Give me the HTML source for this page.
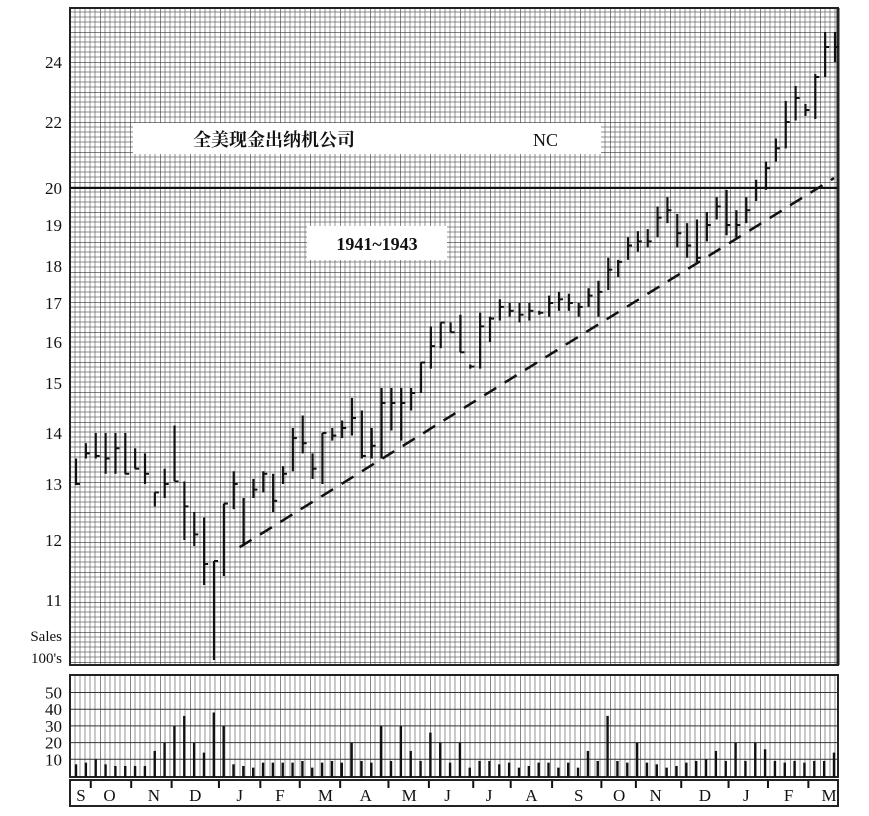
<!DOCTYPE html>
<html><head><meta charset="utf-8"><style>
body{margin:0;background:#fff;width:869px;height:816px;overflow:hidden}
svg{display:block}
text{font-family:"Liberation Serif","Noto Serif CJK SC",serif;fill:#111}
</style></head><body>
<svg id="chart" width="869" height="816" viewBox="0 0 869 816" xmlns="http://www.w3.org/2000/svg">
<defs>
<pattern id="grid" x="70" y="2" width="30" height="30" patternUnits="userSpaceOnUse">
<path d="M5 0V30M10 0V30M15 0V30M20 0V30M25 0V30M0 5H30M0 10H30M0 15H30M0 20H30M0 25H30" stroke="#666" stroke-width="0.7" fill="none"/>
<path d="M0 0V30M0 0H30" stroke="#333" stroke-width="1.2" fill="none"/>
</pattern>
<pattern id="vgrid" x="70" y="0" width="30" height="10" patternUnits="userSpaceOnUse">
<path d="M5 0V10M10 0V10M15 0V10M20 0V10M25 0V10" stroke="#666" stroke-width="0.7" fill="none"/>
<path d="M0 0V10" stroke="#333" stroke-width="1.2" fill="none"/>
</pattern>
</defs>
<rect x="70" y="8" width="768" height="657" fill="url(#grid)"/>
<rect x="70" y="8" width="768" height="657" fill="none" stroke="#222" stroke-width="2"/>
<line x1="838" y1="8" x2="838" y2="665" stroke="#222" stroke-width="3"/>
<line x1="70" y1="188" x2="838" y2="188" stroke="#111" stroke-width="2"/>
<rect x="70" y="675" width="768" height="102" fill="url(#vgrid)"/>
<g id="vhl"></g>
<rect x="70" y="675" width="768" height="102" fill="none" stroke="#222" stroke-width="2"/>
<rect x="70" y="780" width="768" height="26" fill="#fff" stroke="#222" stroke-width="2"/>
<g id="yaxis"></g>
<g id="vaxis"></g>
<text x="62" y="641" font-size="15" text-anchor="end">Sales</text>
<text x="62" y="663" font-size="15" text-anchor="end">100's</text>
<g id="bars"></g>
<g id="vols"></g>
<g id="months"></g>
<line id="trend" stroke="#111" stroke-width="2.5" stroke-dasharray="14,10"/>
<rect x="133" y="123" width="468" height="31" fill="#fff"/>
<text x="193" y="146" font-size="18" font-weight="bold" font-family="Liberation Sans, Noto Sans CJK SC, sans-serif">全美现金出纳机公司</text>
<text x="533" y="146" font-size="18">NC</text>
<rect x="307" y="226" width="140" height="34" fill="#fff"/>
<text x="377" y="250" font-size="18" font-weight="bold" text-anchor="middle">1941~1943</text>
</svg>
<script>
const highs=[13.5,13.8,14.0,14.0,14.0,14.0,13.7,13.6,12.85,13.3,14.15,13.05,12.5,12.4,11.65,12.65,13.25,12.75,13.1,13.25,13.2,13.35,14.1,14.35,13.6,14.0,14.1,
14.25,14.7,14.45,14.1,14.9,14.9,14.9,14.9,15.5,16.4,16.5,16.5,16.7,15.45,16.75,16.65,17.1,17.0,17.0,17.0,16.8,17.2,17.3,17.25,17.0,17.4,17.6,
18.2,18.15,18.7,18.85,18.9,19.5,19.75,19.3,19.05,19.15,19.35,19.75,19.95,19.4,19.75,20.25,20.8,21.5,22.7,23.2,22.6,23.6,25.0,25.0];
const lows=[12.98,13.5,13.5,13.2,13.2,13.2,13.3,13.0,12.6,12.75,13.05,12.0,11.9,11.25,10.0,11.4,12.55,11.9,12.75,12.85,12.5,13.0,13.25,13.6,13.1,13.0,13.85,
13.9,13.95,13.5,13.5,13.5,14.05,13.85,14.45,14.8,15.35,15.85,16.25,15.75,15.35,15.35,16.0,16.55,16.65,16.5,16.55,16.7,16.65,16.8,16.8,16.65,16.9,16.65,
17.35,17.7,18.15,18.35,18.45,18.7,19.05,18.45,18.2,18.1,18.6,19.15,18.75,18.7,19.05,19.65,19.95,20.8,21.2,22.05,22.2,22.1,23.5,24.0];
const closes=[13.0,13.6,13.55,13.5,13.7,13.2,13.3,13.2,12.85,13.0,13.05,12.6,12.1,11.6,11.65,12.65,13.0,11.95,12.9,13.2,12.7,13.2,13.9,13.8,13.3,14.0,13.95,
14.1,14.3,13.55,13.75,14.6,14.6,14.6,14.8,15.5,15.9,16.5,16.25,15.75,15.4,16.4,16.6,16.9,16.8,16.7,16.8,16.75,17.0,17.1,17.0,16.9,17.2,17.3,
17.9,18.1,18.5,18.6,18.6,19.2,19.4,18.8,18.5,18.2,19.0,19.5,19.0,19.0,19.4,20.0,20.6,21.2,22.0,22.8,22.4,23.5,24.5,24.5];
const volumes=[7,8,10,7,6,6,6,6,15,20,30,36,20,14,38,30,7,6,5,8,8,8,8,9,5,8,9,8,20,9,8,30,9,30,15,9,26,20,8,20,
5,9,9,7,8,5,6,8,8,5,8,5,15,9,36,9,8,20,8,7,5,6,8,9,10,15,9,20,9,20,16,9,8,9,8,9,9,14];
const priceTicks=[11,12,13,14,15,16,17,18,19,20,22,24];
const priceTickY=[600,540,484,433,383,342,303,266,225,188,122,62];
const volTicks=[10,20,30,40,50];
const monthLabels=["S","O","N","D","J","F","M","A","M","J","J","A","S","O","N","D","J","F","M"];
const monthWeek=[0.5,3.4,7.9,12.1,16.6,20.7,25.3,29.4,33.8,37.7,41.9,46.2,51.0,55.1,58.8,63.8,68.0,72.3,76.4];
const monthTickWeek=[1.5,5.6,9.7,14.5,18.7,22.7,26.8,31.7,35.8,40.3,44.1,48.3,53.3,56.8,61.4,66.2,70.2,74.3];
const trendStart=[16.6,11.88], trendEnd=[76.9,20.3];

const NS="http://www.w3.org/2000/svg";
function mk(tag,attrs,parent){const e=document.createElementNS(NS,tag);for(const k in attrs)e.setAttribute(k,attrs[k]);parent.appendChild(e);return e;}
function y(p){
  const t=priceTicks,v=priceTickY;
  let i=0;
  if(p<=t[0])i=0;else if(p>=t[t.length-1])i=t.length-2;else{while(p>t[i+1])i++;}
  return v[i]+(p-t[i])*(v[i+1]-v[i])/(t[i+1]-t[i]);
}
function xp(i){return 76+i*(835-76)/(highs.length-1);}
function xv(i){return 76+i*(834-76)/(volumes.length-1);}
function yv(v){return 776-v*1.67;}
function xm(w){return 76+w*(835-76)/(highs.length-1);}
const bars=document.getElementById('bars');
for(let i=0;i<highs.length;i++){
  const g=mk('g',{},bars);
  
  
  const x=xp(i);
  mk('line',{x1:x,x2:x,y1:y(highs[i]),y2:Math.min(665,y(lows[i])),stroke:'#111','stroke-width':2.2},g);
  mk('line',{x1:x,x2:x+4,y1:y(closes[i]),y2:y(closes[i]),stroke:'#111','stroke-width':2},g);
}
const vols=document.getElementById('vols');
for(let i=0;i<volumes.length;i++){
  const l=mk('line',{x1:xv(i),x2:xv(i),y1:yv(volumes[i]),y2:777,stroke:'#111','stroke-width':2.4},vols);
  
  
}
const ya=document.getElementById('yaxis');
priceTicks.forEach((p,i)=>{const t=mk('text',{x:62,y:y(p)+6,'font-size':17,'text-anchor':'end'},ya);t.textContent=p;
  });
const va=document.getElementById('vaxis'),vh=document.getElementById('vhl');
volTicks.forEach(v=>{const t=mk('text',{x:62,y:yv(v)+6,'font-size':17,'text-anchor':'end'},va);t.textContent=v;
  
  const l=mk('line',{x1:70,x2:838,y1:yv(v),y2:yv(v),stroke:'#333','stroke-width':1},vh);
  });
const mo=document.getElementById('months');
monthLabels.forEach((m,i)=>{const t=mk('text',{x:xm(monthWeek[i]),y:801,'font-size':17,'text-anchor':'middle'},mo);t.textContent=m;
  });
monthTickWeek.forEach(w=>{const l=mk('line',{x1:xm(w),x2:xm(w),y1:781,y2:788,stroke:'#111','stroke-width':2},mo);
  });
const tr=document.getElementById('trend');
tr.setAttribute('x1',xp(trendStart[0]));tr.setAttribute('y1',y(trendStart[1]));
tr.setAttribute('x2',xp(trendEnd[0]));tr.setAttribute('y2',y(trendEnd[1]));
</script>
</body></html>
